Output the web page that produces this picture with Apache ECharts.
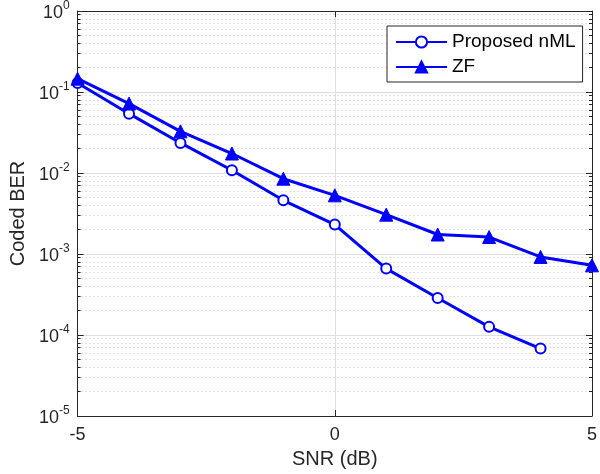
<!DOCTYPE html>
<html>
<head>
<meta charset="utf-8">
<script src="https://cdn.jsdelivr.net/npm/echarts@6/dist/echarts.min.js"></script>
<style>
  html, body { margin: 0; padding: 0; background: #fff; }
  #chart { width: 600px; height: 474px; }
</style>
</head>
<body>
<div id="chart"></div>
<script>
var snr = [-5, -4, -3, -2, -1, 0, 1, 2, 3, 4, 5];
var berNML = [0.129, 0.054, 0.0235, 0.0108, 0.0046, 0.00231, 0.00066, 0.000286, 0.000126, 0.000068];
var berZF = [0.146, 0.072, 0.0327, 0.0174, 0.0085, 0.0053, 0.00306, 0.00174, 0.00162, 0.00092, 0.000725];
var yMajorTicks = [1e-5, 1e-4, 1e-3, 1e-2, 1e-1, 1];
var xTicks = [-5, 0, 5];

// minor grid positions 2..9 x 10^k
var yMinorTicks = [];
for (var k = -5; k < 0; k++) {
  for (var m = 2; m <= 9; m++) {
    yMinorTicks.push(+(m * Math.pow(10, k)).toPrecision(3));
  }
}

function pairs(xs, ys) {
  return ys.map(function (v, i) { return [xs[i], v]; });
}

var chart = echarts.init(document.getElementById('chart'));
var font = 'Liberation Sans, Arial, sans-serif';
var blue = '#0000ff';
var dark = '#262626';

function yAxisBase(pos) {
  return {
    type: 'log',
    logBase: 10,
    min: 1e-5,
    max: 1,
    position: pos,
    axisLine: { show: false, onZero: false },
    axisLabel: { show: false },
    axisTick: { show: false },
    splitLine: { show: false },
    minorTick: { show: false },
    minorSplitLine: { show: false }
  };
}

var yLeft = yAxisBase('left');
yLeft.axisLine = { show: true, onZero: false, lineStyle: { color: dark, width: 1 } };
yLeft.axisTick = { show: true, inside: true, length: 6, lineStyle: { color: dark }, customValues: yMajorTicks };
yLeft.axisLabel = {
  show: true,
  customValues: yMajorTicks,
  margin: 8,
  color: dark,
  fontFamily: font,
  fontSize: 18,
  formatter: function (v) {
    var e = Math.round(Math.log10(v));
    return '{b|10}{sup|' + e + '}';
  },
  rich: {
    b: { fontSize: 18, fontFamily: font, color: dark, verticalAlign: 'bottom' },
    sup: { fontSize: 12, fontFamily: font, color: dark, verticalAlign: 'bottom', padding: [0, 0, 10, 0] }
  }
};
yLeft.splitLine = { show: true, lineStyle: { color: '#dfdfdf', width: 1 } };
yLeft.name = 'Coded BER';
yLeft.nameLocation = 'middle';
yLeft.nameGap = 46;
yLeft.nameTextStyle = { color: dark, fontFamily: font, fontSize: 20 };

var yLeftMinor = yAxisBase('left');
yLeftMinor.axisTick = { show: true, inside: true, length: 3, lineStyle: { color: dark }, customValues: yMinorTicks };
yLeftMinor.axisLabel = { show: false, customValues: yMinorTicks };
yLeftMinor.splitLine = { show: true, lineStyle: { color: '#c8c8c8', width: 1, type: [1, 3] } };

var yRight = yAxisBase('right');
yRight.axisLine = { show: true, onZero: false, lineStyle: { color: dark, width: 1 } };
yRight.axisTick = { show: true, inside: true, length: 6, lineStyle: { color: dark }, customValues: yMajorTicks };
yRight.axisLabel = { show: false, customValues: yMajorTicks };

var yRightMinor = yAxisBase('right');
yRightMinor.axisTick = { show: true, inside: true, length: 3, lineStyle: { color: dark }, customValues: yMinorTicks };
yRightMinor.axisLabel = { show: false, customValues: yMinorTicks };

var option = {
  animation: false,
  backgroundColor: '#fff',
  grid: { left: 77, right: 4, top: 11, bottom: 58 },
  legend: {
    left: 387,
    top: 26,
    orient: 'vertical',
    backgroundColor: '#fff',
    borderColor: dark,
    borderWidth: 1,
    borderRadius: 0,
    padding: [6, 7, 5, 8],
    itemWidth: 51,
    itemHeight: 14,
    itemGap: 5,
    textStyle: { color: '#000', fontFamily: font, fontSize: 19, lineHeight: 20 },
    data: ['Proposed nML', 'ZF']
  },
  xAxis: [
    {
      type: 'value',
      min: -5,
      max: 5,
      interval: 5,
      position: 'bottom',
      axisLine: { show: true, onZero: false, lineStyle: { color: dark } },
      axisTick: { show: true, inside: true, length: 6, lineStyle: { color: dark }, customValues: xTicks },
      axisLabel: { color: dark, fontFamily: font, fontSize: 18, margin: 10, customValues: xTicks },
      splitLine: { show: true, lineStyle: { color: '#dfdfdf' } },
      name: 'SNR (dB)',
      nameLocation: 'middle',
      nameGap: 33,
      nameTextStyle: { color: dark, fontFamily: font, fontSize: 20 }
    },
    {
      type: 'value',
      min: -5,
      max: 5,
      interval: 5,
      position: 'top',
      axisLine: { show: true, onZero: false, lineStyle: { color: dark } },
      axisTick: { show: true, inside: true, length: 6, lineStyle: { color: dark } },
      axisLabel: { show: false },
      splitLine: { show: false }
    }
  ],
  yAxis: [yLeft, yLeftMinor, yRight, yRightMinor],
  series: [
    {
      name: 'Proposed nML',
      type: 'line',
      data: pairs(snr, berNML),
      symbol: 'emptyCircle',
      symbolSize: 10,
      lineStyle: { color: blue, width: 3 },
      itemStyle: { color: blue, borderColor: blue, borderWidth: 2.5 },
      z: 5
    },
    {
      name: 'ZF',
      type: 'line',
      data: pairs(snr, berZF),
      symbol: 'triangle',
      symbolSize: 13,
      lineStyle: { color: blue, width: 3 },
      itemStyle: { color: blue, borderColor: blue, borderWidth: 1 },
      z: 5
    }
  ]
};

chart.setOption(option);
</script>
</body>
</html>
